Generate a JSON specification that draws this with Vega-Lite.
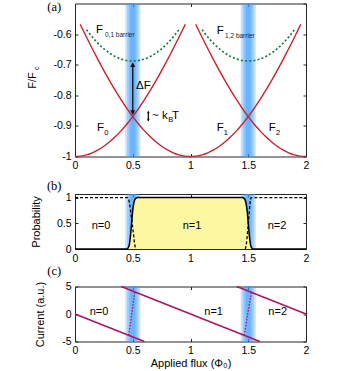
{
  "$schema": "https://vega.github.io/schema/vega-lite/v6.json",
  "padding": {"left": 26, "top": 0.5, "right": 5, "bottom": 5},
  "config": {
    "font": "Liberation Sans",
    "view": {"stroke": "#262626", "strokeWidth": 1},
    "axis": {"grid": false, "domain": false, "tickSize": -3, "tickColor": "#262626", "tickWidth": 1,
      "labelFont": "Liberation Sans", "labelFontSize": 10.5, "labelColor": "#000", "labelPadding": 7,
      "labelFlush": false, "labelOverlap": false, "labelExpr": "toString(datum.value)",
      "titleFont": "Liberation Sans", "titleFontSize": 11, "titleFontWeight": "normal", "titleColor": "#000"},
    "text": {"font": "Liberation Sans", "color": "#000"}
  },
  "datasets": {
    "bands": [
      {"x1": 0.435, "x2": 0.565}, {"x1": 0.452, "x2": 0.548}, {"x1": 0.468, "x2": 0.532}, {"x1": 0.482, "x2": 0.518},
      {"x1": 1.435, "x2": 1.565}, {"x1": 1.452, "x2": 1.548}, {"x1": 1.468, "x2": 1.532}, {"x1": 1.482, "x2": 1.518}
    ],
    "F": [
      {"c": "F0", "x": 0, "F": -1}, {"c": "F0", "x": 0.05, "F": -0.9987}, {"c": "F0", "x": 0.1, "F": -0.9946}, {"c": "F0", "x": 0.15, "F": -0.9879},
      {"c": "F0", "x": 0.2, "F": -0.9785}, {"c": "F0", "x": 0.25, "F": -0.9665}, {"c": "F0", "x": 0.3, "F": -0.952}, {"c": "F0", "x": 0.35, "F": -0.9349},
      {"c": "F0", "x": 0.4, "F": -0.9155}, {"c": "F0", "x": 0.45, "F": -0.8936}, {"c": "F0", "x": 0.5, "F": -0.8696}, {"c": "F0", "x": 0.55, "F": -0.8433},
      {"c": "F0", "x": 0.6, "F": -0.815}, {"c": "F0", "x": 0.65, "F": -0.7849}, {"c": "F0", "x": 0.7, "F": -0.7529}, {"c": "F0", "x": 0.75, "F": -0.7193},
      {"c": "F0", "x": 0.8, "F": -0.6843}, {"c": "F0", "x": 0.85, "F": -0.6479}, {"c": "F0", "x": 0.9, "F": -0.6104}, {"c": "F0", "x": 0.955, "F": -0.5681},
      {"c": "F1", "x": 0.045, "F": -0.5681}, {"c": "F1", "x": 0.1, "F": -0.6104}, {"c": "F1", "x": 0.15, "F": -0.6479}, {"c": "F1", "x": 0.2, "F": -0.6843},
      {"c": "F1", "x": 0.25, "F": -0.7193}, {"c": "F1", "x": 0.3, "F": -0.7529}, {"c": "F1", "x": 0.35, "F": -0.7849}, {"c": "F1", "x": 0.4, "F": -0.815},
      {"c": "F1", "x": 0.45, "F": -0.8433}, {"c": "F1", "x": 0.5, "F": -0.8696}, {"c": "F1", "x": 0.55, "F": -0.8936}, {"c": "F1", "x": 0.6, "F": -0.9155},
      {"c": "F1", "x": 0.65, "F": -0.9349}, {"c": "F1", "x": 0.7, "F": -0.952}, {"c": "F1", "x": 0.75, "F": -0.9665}, {"c": "F1", "x": 0.8, "F": -0.9785},
      {"c": "F1", "x": 0.85, "F": -0.9879}, {"c": "F1", "x": 0.9, "F": -0.9946}, {"c": "F1", "x": 0.95, "F": -0.9987}, {"c": "F1", "x": 1, "F": -1},
      {"c": "F1", "x": 1.05, "F": -0.9987}, {"c": "F1", "x": 1.1, "F": -0.9946}, {"c": "F1", "x": 1.15, "F": -0.9879}, {"c": "F1", "x": 1.2, "F": -0.9785},
      {"c": "F1", "x": 1.25, "F": -0.9665}, {"c": "F1", "x": 1.3, "F": -0.952}, {"c": "F1", "x": 1.35, "F": -0.9349}, {"c": "F1", "x": 1.4, "F": -0.9155},
      {"c": "F1", "x": 1.45, "F": -0.8936}, {"c": "F1", "x": 1.5, "F": -0.8696}, {"c": "F1", "x": 1.55, "F": -0.8433}, {"c": "F1", "x": 1.6, "F": -0.815},
      {"c": "F1", "x": 1.65, "F": -0.7849}, {"c": "F1", "x": 1.7, "F": -0.7529}, {"c": "F1", "x": 1.75, "F": -0.7193}, {"c": "F1", "x": 1.8, "F": -0.6843},
      {"c": "F1", "x": 1.85, "F": -0.6479}, {"c": "F1", "x": 1.9, "F": -0.6104}, {"c": "F1", "x": 1.955, "F": -0.5681},
      {"c": "F2", "x": 1.045, "F": -0.5681}, {"c": "F2", "x": 1.1, "F": -0.6104}, {"c": "F2", "x": 1.15, "F": -0.6479}, {"c": "F2", "x": 1.2, "F": -0.6843},
      {"c": "F2", "x": 1.25, "F": -0.7193}, {"c": "F2", "x": 1.3, "F": -0.7529}, {"c": "F2", "x": 1.35, "F": -0.7849}, {"c": "F2", "x": 1.4, "F": -0.815},
      {"c": "F2", "x": 1.45, "F": -0.8433}, {"c": "F2", "x": 1.5, "F": -0.8696}, {"c": "F2", "x": 1.55, "F": -0.8936}, {"c": "F2", "x": 1.6, "F": -0.9155},
      {"c": "F2", "x": 1.65, "F": -0.9349}, {"c": "F2", "x": 1.7, "F": -0.952}, {"c": "F2", "x": 1.75, "F": -0.9665}, {"c": "F2", "x": 1.8, "F": -0.9785},
      {"c": "F2", "x": 1.85, "F": -0.9879}, {"c": "F2", "x": 1.9, "F": -0.9946}, {"c": "F2", "x": 1.95, "F": -0.9987}, {"c": "F2", "x": 2, "F": -1}
    ],
    "barrier": [
      {"c": "B01", "x": 0.1, "F": -0.5856}, {"c": "B01", "x": 0.15, "F": -0.6096}, {"c": "B01", "x": 0.2, "F": -0.6304}, {"c": "B01", "x": 0.25, "F": -0.648},
      {"c": "B01", "x": 0.3, "F": -0.6624}, {"c": "B01", "x": 0.35, "F": -0.6736}, {"c": "B01", "x": 0.4, "F": -0.6816}, {"c": "B01", "x": 0.45, "F": -0.6864},
      {"c": "B01", "x": 0.5, "F": -0.688}, {"c": "B01", "x": 0.55, "F": -0.6864}, {"c": "B01", "x": 0.6, "F": -0.6816}, {"c": "B01", "x": 0.65, "F": -0.6736},
      {"c": "B01", "x": 0.7, "F": -0.6624}, {"c": "B01", "x": 0.75, "F": -0.648}, {"c": "B01", "x": 0.8, "F": -0.6304}, {"c": "B01", "x": 0.85, "F": -0.6096},
      {"c": "B01", "x": 0.9, "F": -0.5856},
      {"c": "B12", "x": 1.1, "F": -0.5856}, {"c": "B12", "x": 1.15, "F": -0.6096}, {"c": "B12", "x": 1.2, "F": -0.6304}, {"c": "B12", "x": 1.25, "F": -0.648},
      {"c": "B12", "x": 1.3, "F": -0.6624}, {"c": "B12", "x": 1.35, "F": -0.6736}, {"c": "B12", "x": 1.4, "F": -0.6816}, {"c": "B12", "x": 1.45, "F": -0.6864},
      {"c": "B12", "x": 1.5, "F": -0.688}, {"c": "B12", "x": 1.55, "F": -0.6864}, {"c": "B12", "x": 1.6, "F": -0.6816}, {"c": "B12", "x": 1.65, "F": -0.6736},
      {"c": "B12", "x": 1.7, "F": -0.6624}, {"c": "B12", "x": 1.75, "F": -0.648}, {"c": "B12", "x": 1.8, "F": -0.6304}, {"c": "B12", "x": 1.85, "F": -0.6096},
      {"c": "B12", "x": 1.9, "F": -0.5856}
    ],
    "arrows": [
      {"a": "dF", "x": 0.5, "y1": -0.697, "y2": -0.86},
      {"a": "kT", "x": 0.635, "y1": -0.853, "y2": -0.884}
    ],
    "heads": [
      {"a": "dF", "dir": "up", "x": 0.5, "y": -0.7},
      {"a": "dF", "dir": "down", "x": 0.5, "y": -0.856},
      {"a": "kT", "dir": "up", "x": 0.635, "y": -0.855},
      {"a": "kT", "dir": "down", "x": 0.635, "y": -0.881}
    ],
    "txtA": [
      {"x": 0.182, "y": -0.587, "t": "F"},
      {"x": 1.227, "y": -0.59, "t": "F"},
      {"x": 0.19, "y": -0.907, "t": "F"},
      {"x": 1.227, "y": -0.907, "t": "F"},
      {"x": 1.677, "y": -0.907, "t": "F"},
      {"x": 0.528, "y": -0.77, "t": "ΔF"},
      {"x": 0.667, "y": -0.869, "t": "~ k"},
      {"x": 0.84, "y": -0.869, "t": "T"}
    ],
    "subBarrier": [
      {"x": 0.26, "y": -0.603, "t": "0,1 barrier"},
      {"x": 1.299, "y": -0.607, "t": "1,2 barrier"}
    ],
    "subA": [
      {"x": 0.254, "y": -0.923, "t": "0"},
      {"x": 1.287, "y": -0.923, "t": "1"},
      {"x": 1.74, "y": -0.923, "t": "2"},
      {"x": 0.808, "y": -0.88, "t": "B"}
    ],
    "P1": [
      {"x": 0, "p": 0}, {"x": 0.45, "p": 0}, {"x": 0.46, "p": 0.02}, {"x": 0.47, "p": 0.08}, {"x": 0.48, "p": 0.25},
      {"x": 0.49, "p": 0.5}, {"x": 0.5, "p": 0.75}, {"x": 0.51, "p": 0.9}, {"x": 0.52, "p": 0.97}, {"x": 0.53, "p": 0.99},
      {"x": 0.54, "p": 1}, {"x": 1.45, "p": 1}, {"x": 1.46, "p": 0.99}, {"x": 1.47, "p": 0.97}, {"x": 1.48, "p": 0.9},
      {"x": 1.49, "p": 0.75}, {"x": 1.5, "p": 0.5}, {"x": 1.51, "p": 0.25}, {"x": 1.52, "p": 0.08}, {"x": 1.53, "p": 0.02},
      {"x": 1.54, "p": 0}, {"x": 2, "p": 0}
    ],
    "Pdash": [
      {"g": "P0", "x": 0, "p": 1}, {"g": "P0", "x": 0.455, "p": 1}, {"g": "P0", "x": 0.465, "p": 0.96}, {"g": "P0", "x": 0.475, "p": 0.85},
      {"g": "P0", "x": 0.485, "p": 0.68}, {"g": "P0", "x": 0.495, "p": 0.5}, {"g": "P0", "x": 0.505, "p": 0.32}, {"g": "P0", "x": 0.515, "p": 0.12},
      {"g": "P0", "x": 0.525, "p": 0},
      {"g": "P2", "x": 1.475, "p": 0}, {"g": "P2", "x": 1.485, "p": 0.12}, {"g": "P2", "x": 1.495, "p": 0.35}, {"g": "P2", "x": 1.505, "p": 0.62},
      {"g": "P2", "x": 1.515, "p": 0.88}, {"g": "P2", "x": 1.525, "p": 1}, {"g": "P2", "x": 2, "p": 1}
    ],
    "txtB": [
      {"x": 0.225, "y": 0.45, "t": "n=0"},
      {"x": 1.013, "y": 0.45, "t": "n=1"},
      {"x": 1.749, "y": 0.45, "t": "n=2"}
    ],
    "I": [
      {"g": "n0", "x": 0, "i": 0}, {"g": "n0", "x": 0.6, "i": -5},
      {"g": "n1", "x": 0.4, "i": 5}, {"g": "n1", "x": 1.6, "i": -5},
      {"g": "n2", "x": 1.4, "i": 5}, {"g": "n2", "x": 2, "i": 0}
    ],
    "Idot": [
      {"g": "s1", "x": 0.465, "i": -3.875}, {"g": "s1", "x": 0.49, "i": -0.2}, {"g": "s1", "x": 0.518, "i": 4.02},
      {"g": "s2", "x": 1.465, "i": -3.875}, {"g": "s2", "x": 1.495, "i": 0}, {"g": "s2", "x": 1.528, "i": 3.93}
    ],
    "txtC": [
      {"x": 0.208, "y": 0.3, "t": "n=0"},
      {"x": 1.2, "y": 0.3, "t": "n=1"},
      {"x": 1.755, "y": 0.3, "t": "n=2"}
    ],
    "tagA": [{"x": -0.18, "y": -0.513, "t": "(a)"}],
    "tagB": [{"x": -0.18, "y": 1.235, "t": "(b)"}],
    "tagC": [{"x": -0.18, "y": 7.73, "t": "(c)"}],
    "subC": [{"x": -0.332, "y": -0.711, "t": "c"}]
  },
  "vconcat": [
    {
      "width": 231, "height": 153,
      "layer": [
        {"data": {"name": "bands"}, "mark": {"type": "rect", "color": "#3d9bff", "opacity": 0.3},
          "encoding": {"x": {"field": "x1", "type": "quantitative", "scale": {"domain": [0, 2], "nice": false}, "axis": null}, "x2": {"field": "x2"}}},
        {"data": {"name": "F"}, "mark": {"type": "line", "color": "#c8232c", "strokeWidth": 1.4, "interpolate": "monotone"},
          "encoding": {
            "x": {"field": "x", "type": "quantitative", "axis": {"values": [0, 0.5, 1, 1.5, 2], "title": null}},
            "y": {"field": "F", "type": "quantitative", "scale": {"domain": [-1, -0.5], "nice": false},
              "axis": {"values": [-1, -0.9, -0.8, -0.7, -0.6], "title": "F/F", "titlePadding": 15}},
            "detail": {"field": "c"}}},
        {"data": {"name": "barrier"}, "mark": {"type": "line", "color": "#157a3c", "strokeWidth": 1.7, "strokeDash": [2, 2.2], "interpolate": "monotone"},
          "encoding": {
            "x": {"field": "x", "type": "quantitative", "axis": {"orient": "top", "values": [0, 0.5, 1, 1.5, 2], "labels": false, "title": null}},
            "y": {"field": "F", "type": "quantitative", "axis": {"orient": "right", "values": [-1, -0.9, -0.8, -0.7, -0.6, -0.5], "labels": false, "title": null}},
            "detail": {"field": "c"}}},
        {"data": {"name": "arrows"}, "mark": {"type": "rule", "color": "#111", "strokeWidth": 1.3},
          "encoding": {"x": {"field": "x", "type": "quantitative", "axis": null}, "y": {"field": "y1", "type": "quantitative", "axis": null}, "y2": {"field": "y2"}}},
        {"data": {"name": "heads"}, "mark": {"type": "point", "filled": true, "color": "#111", "opacity": 1},
          "encoding": {"x": {"field": "x", "type": "quantitative", "axis": null}, "y": {"field": "y", "type": "quantitative", "axis": null},
            "shape": {"field": "dir", "type": "nominal", "scale": {"domain": ["up", "down"], "range": ["triangle-up", "triangle-down"]}, "legend": null},
            "size": {"field": "a", "type": "nominal", "scale": {"domain": ["dF", "kT"], "range": [26, 8]}, "legend": null}}},
        {"data": {"name": "txtA"}, "mark": {"type": "text", "fontSize": 11.5, "align": "left", "baseline": "middle"},
          "encoding": {"x": {"field": "x", "type": "quantitative", "axis": null}, "y": {"field": "y", "type": "quantitative", "axis": null}, "text": {"field": "t"}}},
        {"data": {"name": "subBarrier"}, "mark": {"type": "text", "fontSize": 6.5, "align": "left", "baseline": "middle", "color": "#222"},
          "encoding": {"x": {"field": "x", "type": "quantitative", "axis": null}, "y": {"field": "y", "type": "quantitative", "axis": null}, "text": {"field": "t"}}},
        {"data": {"name": "subA"}, "mark": {"type": "text", "fontSize": 7.5, "align": "left", "baseline": "middle"},
          "encoding": {"x": {"field": "x", "type": "quantitative", "axis": null}, "y": {"field": "y", "type": "quantitative", "axis": null}, "text": {"field": "t"}}},
        {"data": {"name": "tagA"}, "mark": {"type": "text", "fontSize": 12.5, "font": "Liberation Serif", "align": "center", "baseline": "middle"},
          "encoding": {"x": {"field": "x", "type": "quantitative", "axis": null}, "y": {"field": "y", "type": "quantitative", "axis": null}, "text": {"field": "t"}}},
        {"data": {"name": "subC"}, "mark": {"type": "text", "fontSize": 7.5, "angle": 270, "align": "center", "baseline": "middle"},
          "encoding": {"x": {"field": "x", "type": "quantitative", "axis": null}, "y": {"field": "y", "type": "quantitative", "axis": null}, "text": {"field": "t"}}}
      ],
      "resolve": {"axis": {"x": "independent", "y": "independent"}}
    },
    {
      "width": 231, "height": 55,
      "layer": [
        {"data": {"name": "bands"}, "mark": {"type": "rect", "color": "#3d9bff", "opacity": 0.3},
          "encoding": {"x": {"field": "x1", "type": "quantitative", "scale": {"domain": [0, 2], "nice": false}, "axis": null}, "x2": {"field": "x2"}}},
        {"data": {"name": "P1"}, "mark": {"type": "area", "color": "#fcf7a0", "opacity": 1, "interpolate": "monotone"},
          "encoding": {"x": {"field": "x", "type": "quantitative", "axis": null}, "y": {"field": "p", "type": "quantitative", "axis": null}}},
        {"data": {"name": "P1"}, "mark": {"type": "line", "color": "#000", "strokeWidth": 1.5, "interpolate": "monotone"},
          "encoding": {
            "x": {"field": "x", "type": "quantitative", "axis": {"values": [0, 0.5, 1, 1.5, 2], "title": null}},
            "y": {"field": "p", "type": "quantitative", "scale": {"domain": [0, 1.07], "nice": false},
              "axis": {"values": [0, 0.5, 1], "title": "Probability", "titlePadding": 15}}}},
        {"data": {"name": "Pdash"}, "mark": {"type": "line", "color": "#000", "strokeWidth": 1.3, "strokeDash": [3, 2], "interpolate": "monotone"},
          "encoding": {
            "x": {"field": "x", "type": "quantitative", "axis": {"orient": "top", "values": [0, 0.5, 1, 1.5, 2], "labels": false, "title": null}},
            "y": {"field": "p", "type": "quantitative", "axis": {"orient": "right", "values": [0, 0.5, 1], "labels": false, "title": null}},
            "detail": {"field": "g"}}},
        {"data": {"name": "txtB"}, "mark": {"type": "text", "fontSize": 11, "align": "center", "baseline": "middle"},
          "encoding": {"x": {"field": "x", "type": "quantitative", "axis": null}, "y": {"field": "y", "type": "quantitative", "axis": null}, "text": {"field": "t"}}},
        {"data": {"name": "tagB"}, "mark": {"type": "text", "fontSize": 12.5, "font": "Liberation Serif", "align": "center", "baseline": "middle"},
          "encoding": {"x": {"field": "x", "type": "quantitative", "axis": null}, "y": {"field": "y", "type": "quantitative", "axis": null}, "text": {"field": "t"}}}
      ],
      "resolve": {"axis": {"x": "independent", "y": "independent"}}
    },
    {
      "width": 231, "height": 55,
      "layer": [
        {"data": {"name": "bands"}, "mark": {"type": "rect", "color": "#3d9bff", "opacity": 0.3},
          "encoding": {"x": {"field": "x1", "type": "quantitative", "scale": {"domain": [0, 2], "nice": false}, "axis": null}, "x2": {"field": "x2"}}},
        {"data": {"name": "I"}, "mark": {"type": "line", "color": "#ac1460", "strokeWidth": 1.5},
          "encoding": {
            "x": {"field": "x", "type": "quantitative", "axis": {"values": [0, 0.5, 1, 1.5, 2], "title": "Applied flux (Φ₀)", "titlePadding": 1}},
            "y": {"field": "i", "type": "quantitative", "scale": {"domain": [-5, 5], "nice": false},
              "axis": {"values": [-5, 0, 5], "title": "Current (a.u.)", "titlePadding": 16}},
            "detail": {"field": "g"}}},
        {"data": {"name": "Idot"}, "mark": {"type": "line", "color": "#ac1460", "strokeWidth": 1.3, "strokeDash": [1.5, 1.5], "interpolate": "monotone"},
          "encoding": {
            "x": {"field": "x", "type": "quantitative", "axis": {"orient": "top", "values": [0, 0.5, 1, 1.5, 2], "labels": false, "title": null}},
            "y": {"field": "i", "type": "quantitative", "axis": {"orient": "right", "values": [-5, 0, 5], "labels": false, "title": null}},
            "detail": {"field": "g"}}},
        {"data": {"name": "txtC"}, "mark": {"type": "text", "fontSize": 11, "align": "center", "baseline": "middle"},
          "encoding": {"x": {"field": "x", "type": "quantitative", "axis": null}, "y": {"field": "y", "type": "quantitative", "axis": null}, "text": {"field": "t"}}},
        {"data": {"name": "tagC"}, "mark": {"type": "text", "fontSize": 12.5, "font": "Liberation Serif", "align": "center", "baseline": "middle"},
          "encoding": {"x": {"field": "x", "type": "quantitative", "axis": null}, "y": {"field": "y", "type": "quantitative", "axis": null}, "text": {"field": "t"}}}
      ],
      "resolve": {"axis": {"x": "independent", "y": "independent"}}
    }
  ],
  "spacing": 37.5,
  "bounds": "flush"
}
